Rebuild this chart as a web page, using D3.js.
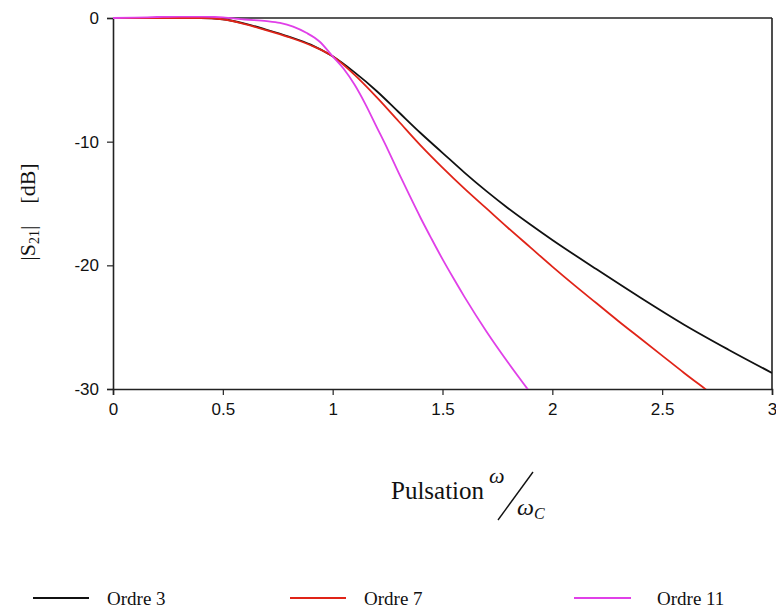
<!DOCTYPE html>
<html>
<head>
<meta charset="utf-8">
<script src="https://cdn.jsdelivr.net/npm/d3@7"></script>
<style>
  body { margin: 0; background: #fff; }
  svg { display: block; }
</style>
</head>
<body>
<svg id="chart" width="776" height="610"></svg>
<script>
// pulsation w/wc and |S21| in dB
var ordre3X = [0, 0.2, 0.4, 0.5, 0.6, 0.7, 0.8, 0.9, 1.0, 1.1, 1.2, 1.3, 1.4, 1.5, 1.6, 1.7, 1.8, 1.9, 2.0, 2.2, 2.4, 2.6, 2.8, 3.0];
var ordre3Y = [0, 0, 0, -0.1, -0.45, -0.95, -1.5, -2.15, -3.1, -4.4, -5.9, -7.6, -9.3, -10.9, -12.5, -14.0, -15.4, -16.7, -17.95, -20.3, -22.6, -24.8, -26.8, -28.7];

var ordre7X = [0, 0.2, 0.4, 0.5, 0.6, 0.7, 0.8, 0.9, 1.0, 1.1, 1.2, 1.3, 1.4, 1.5, 1.6, 1.7, 1.8, 1.9, 2.0, 2.1, 2.2, 2.3, 2.4, 2.5, 2.6, 2.7, 2.8];
var ordre7Y = [0, 0, 0, -0.1, -0.5, -1.0, -1.55, -2.2, -3.1, -4.6, -6.4, -8.35, -10.3, -12.1, -13.8, -15.4, -17.0, -18.55, -20.1, -21.6, -23.05, -24.5, -25.9, -27.3, -28.7, -30.05, -31.4];

var ordre11X = [0, 0.1, 0.2, 0.3, 0.4, 0.5, 0.6, 0.7, 0.76, 0.82, 0.88, 0.94, 1.0, 1.05, 1.1, 1.15, 1.2, 1.25, 1.3, 1.35, 1.4, 1.45, 1.5, 1.55, 1.6, 1.7, 1.8, 1.9];
var ordre11Y = [0, 0.03, 0.08, 0.12, 0.12, 0.05, -0.12, -0.25, -0.4, -0.7, -1.2, -1.9, -3.1, -4.1, -5.4, -7.0, -8.8, -10.6, -12.5, -14.35, -16.15, -17.85, -19.5, -21.05, -22.55, -25.35, -27.9, -30.3];

var xTicks = [0, 0.5, 1, 1.5, 2, 2.5, 3];
var yTicks = [0, -10, -20, -30];
var seriesNames = ["Ordre 3", "Ordre 7", "Ordre 11"];
var seriesColors = ["#111111", "#e02418", "#e040e8"];

var svg = d3.select("#chart");
var margin = {left: 113, top: 18, right: 4, bottom: 221};
var width = 776 - margin.left - margin.right;
var height = 610 - margin.top - margin.bottom;

var x = d3.scaleLinear().domain([0, 3]).range([0, width]);
var y = d3.scaleLinear().domain([-30, 0]).range([height, 0]);

var g = svg.append("g").attr("transform", "translate(" + margin.left + "," + margin.top + ")");

g.append("clipPath").attr("id", "plotclip")
  .append("rect").attr("x", 0).attr("y", -2).attr("width", width).attr("height", height + 2);

// frame
g.append("line").attr("x1", 0).attr("x2", width).attr("y1", 0).attr("y2", 0)
  .attr("stroke", "#222").attr("stroke-width", 1.6);
g.append("line").attr("x1", width).attr("x2", width).attr("y1", 0).attr("y2", height)
  .attr("stroke", "#222").attr("stroke-width", 1.6);

var fmt = function (d) { return String(d); };
var xAxis = g.append("g").attr("transform", "translate(0," + height + ")")
  .call(d3.axisBottom(x).tickValues(xTicks).tickSize(6).tickPadding(6).tickFormat(fmt));
var yAxis = g.append("g")
  .call(d3.axisLeft(y).tickValues(yTicks).tickSize(6).tickPadding(8).tickFormat(fmt));

[xAxis, yAxis].forEach(function (a) {
  a.select(".domain").attr("stroke", "#222").attr("stroke-width", 1.6);
  a.selectAll(".tick line").attr("stroke", "#222").attr("stroke-width", 1.2);
  a.selectAll("text").attr("fill", "#111").style("font-family", "Liberation Sans, Arial, sans-serif").style("font-size", "17px");
});
xAxis.selectAll("text").attr("dy", "0.85em");

var data = [
  d3.zip(ordre3X, ordre3Y),
  d3.zip(ordre7X, ordre7Y),
  d3.zip(ordre11X, ordre11Y)
];

var line = d3.line()
  .x(function (d) { return x(d[0]); })
  .y(function (d) { return y(d[1]); })
  .curve(d3.curveMonotoneX);

g.append("g").attr("clip-path", "url(#plotclip)")
  .selectAll("path").data(data).enter().append("path")
  .attr("d", line)
  .attr("fill", "none")
  .attr("stroke", function (d, i) { return seriesColors[i]; })
  .attr("stroke-width", 1.8);

// y label
var serif = "Liberation Serif, Times New Roman, serif";
var yl = svg.append("text")
  .attr("transform", "translate(35,212) rotate(-90)")
  .attr("text-anchor", "middle")
  .style("font-family", serif).style("font-size", "22px").attr("fill", "#111");
yl.append("tspan").text("|S");
yl.append("tspan").attr("dy", 4).style("font-size", "14px").text("21");
yl.append("tspan").attr("dy", -4).text("|");
yl.append("tspan").attr("dx", 22).text("[dB]");

// x label
var xl = svg.append("g").style("font-family", serif).attr("fill", "#111");
xl.append("text").attr("x", 391).attr("y", 499).style("font-size", "25px").text("Pulsation");
xl.append("text").attr("x", 489).attr("y", 483).style("font-size", "22px").style("font-style", "italic").text("ω");
xl.append("line").attr("x1", 498).attr("y1", 520).attr("x2", 533).attr("y2", 472)
  .attr("stroke", "#111").attr("stroke-width", 1.4);
var wc = xl.append("text").attr("x", 517).attr("y", 515).style("font-size", "24px").style("font-style", "italic");
wc.append("tspan").text("ω");
wc.append("tspan").attr("dy", 4).style("font-size", "16px").text("C");

// legend
var legX = [33, 290, 574];
var legend = svg.append("g").selectAll("g").data(seriesNames).enter().append("g")
  .attr("transform", function (d, i) { return "translate(" + legX[i] + ",598)"; });
legend.append("line").attr("x1", 0).attr("x2", function (d, i) { return i === 2 ? 57 : 56; })
  .attr("y1", 0).attr("y2", 0)
  .attr("stroke", function (d, i) { return seriesColors[i]; })
  .attr("stroke-width", 2);
legend.append("text")
  .attr("x", function (d, i) { return i === 2 ? 83 : 74; })
  .attr("y", 7)
  .style("font-family", serif).style("font-size", "19px").attr("fill", "#111")
  .text(function (d) { return d; });
</script>
</body>
</html>
